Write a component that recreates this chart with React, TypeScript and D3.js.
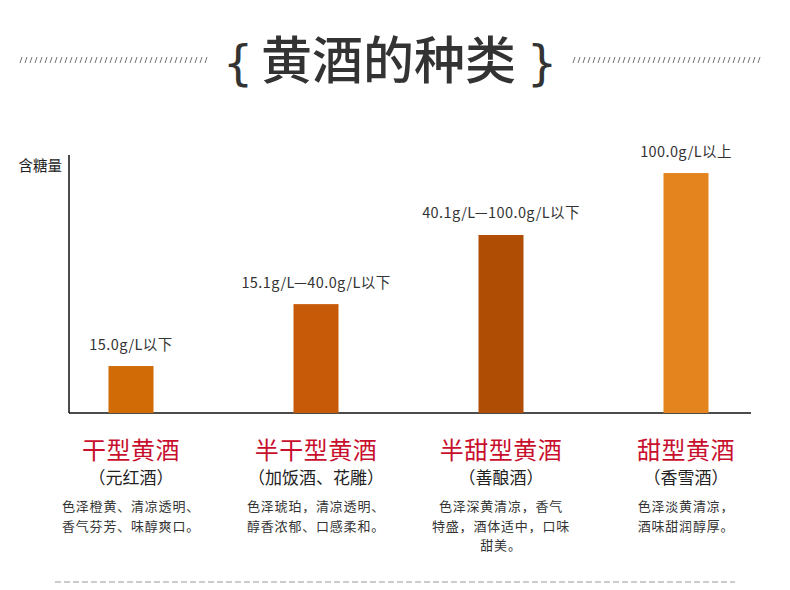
import React from "react";
import * as d3 from "d3";

const categories = ["干型黄酒", "半干型黄酒", "半甜型黄酒", "甜型黄酒"];
const subtitles = ["（元红酒）", "（加饭酒、花雕）", "（善酿酒）", "（香雪酒）"];
const sugarLabels = ["15.0g/L以下", "15.1g/L—40.0g/L以下", "40.1g/L—100.0g/L以下", "100.0g/L以上"];
const barHeights = [18.2, 42.2, 69, 93];
const barColors = ["#d06b05", "#c75a08", "#b04d04", "#e3841f"];
const descriptions = [
  ["色泽橙黄、清凉透明、", "香气芬芳、味醇爽口。"],
  ["色泽琥珀，清凉透明、", "醇香浓郁、口感柔和。"],
  ["色泽深黄清凉，香气", "特盛，酒体适中，口味", "甜美。"],
  ["色泽淡黄清凉，", "酒味甜润醇厚。"],
];
const title = "黄酒的种类";
const yLabel = "含糖量";

const FONT = "'Noto Sans CJK SC', 'Noto Sans', sans-serif";

export default function App() {
  const W = 790, H = 590;
  const axisX = 69, axisBottom = 413, axisTop = 155, axisRight = 751;
  const x = d3.scalePoint<string>().domain(categories).range([131, 686]);
  const y = d3.scaleLinear().domain([0, 100]).range([axisBottom, axisTop]);
  const barW = 45;

  const leftSlashes = d3.range(20, 206, 5);
  const rightSlashes = d3.range(573, 761, 5);

  return (
    <svg width={W} height={H} style={{ position: "absolute", left: 0, top: 0, background: "#fff" }}>
      <rect width={W} height={H} fill="#fff" />
      {/* title decorations */}
      {leftSlashes.concat(rightSlashes).map((sx, i) => (
        <line key={"s" + i} x1={sx} y1={63} x2={sx + 2} y2={57} stroke="#666" strokeWidth={0.9} />
      ))}
      <text x={238} y={80} textAnchor="middle" fontFamily="'DejaVu Sans', sans-serif" fontSize={48} fill="#333">{"{"}</text>
      <text x={542} y={80} textAnchor="middle" fontFamily="'DejaVu Sans', sans-serif" fontSize={48} fill="#333">{"}"}</text>
      <text x={388.5} y={78.5} textAnchor="middle" fontFamily={FONT} fontWeight={500} fontSize={51} fill="#333">{title}</text>

      {/* axes */}
      <text x={62} y={171} textAnchor="end" fontFamily={FONT} fontSize={14.5} fill="#222">{yLabel}</text>
      <line x1={axisX} y1={axisTop} x2={axisX} y2={axisBottom} stroke="#111" strokeWidth={1.5} />
      <line x1={axisX} y1={axisBottom} x2={axisRight} y2={axisBottom} stroke="#111" strokeWidth={1.5} />

      {categories.map((c, i) => {
        const cx = x(c)!;
        const top = y(barHeights[i]);
        return (
          <g key={c}>
            <rect x={cx - barW / 2} y={top} width={barW} height={axisBottom - top} fill={barColors[i]} />
            <text x={cx} y={top - 16.5} textAnchor="middle" fontFamily={FONT} fontSize={14.5} letterSpacing={0.4} fill="#333">{sugarLabels[i]}</text>
            <text x={cx} y={459} textAnchor="middle" fontFamily={FONT} fontSize={24} fill="#c8102e" letterSpacing={0.5}>{c}</text>
            <text x={cx} y={484} textAnchor="middle" fontFamily={FONT} fontSize={17} fill="#222">{subtitles[i]}</text>
            {descriptions[i].map((ln, j) => (
              <text key={j} x={cx} y={511 + j * 19.5} textAnchor="middle" fontFamily={FONT} fontSize={13} letterSpacing={0.8} fill="#333">{ln}</text>
            ))}
          </g>
        );
      })}

      <line x1={55} y1={582} x2={735} y2={582} stroke="#999" strokeWidth={1} strokeDasharray="6 3" />
    </svg>
  );
}
